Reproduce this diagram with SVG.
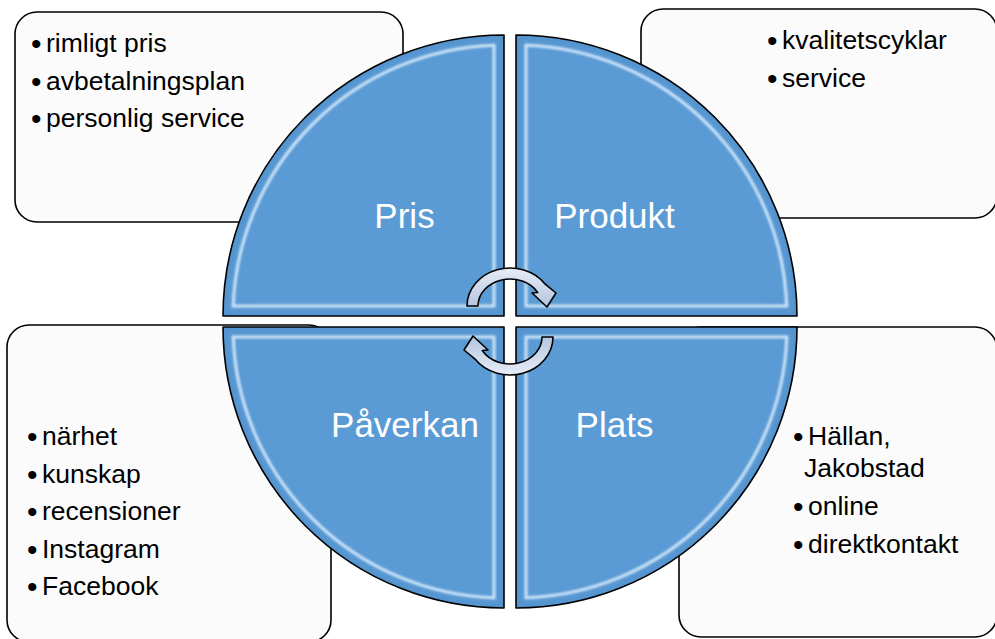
<svg xmlns="http://www.w3.org/2000/svg" xmlns:xlink="http://www.w3.org/1999/xlink" width="995" height="639" viewBox="0 0 995 639">
  <defs>
    <style>
      .box{fill:#fbfbfb;stroke:#000;stroke-width:1.6}
      .txt{font-family:"Liberation Sans",Arial,sans-serif;font-size:26.5px;fill:#000}
      .b{font-size:30px}
      .lbl{font-family:"Liberation Sans",Arial,sans-serif;font-size:35px;fill:#fff;text-anchor:middle}
      .q{fill:#5b9bd5}
      .edge{fill:none;stroke:#000;stroke-width:1.6;stroke-linejoin:round}
      .shade{fill:none;stroke:#3c78b2;stroke-width:8;opacity:.25}
      .hl{fill:none;stroke:#e2f2ff;stroke-width:3;opacity:.85}
      .arrow{fill:url(#ag);stroke:#000;stroke-width:1.6;stroke-linejoin:round}
    </style>
    <!-- quarter disc with its right angle at the origin, opening to the upper left -->
    <path id="qs" d="M0,0 L-281,0 A281,281 0 0 1 0,-281 Z"/>
    <!-- inset outline used for the bevel highlight -->
    <path id="qh" d="M-10,-10 L-270.8,-10 A271,271 0 0 1 -10,-270.8 Z"/>
    <clipPath id="qc"><use href="#qs"/></clipPath>
    <filter id="soft" x="-10%" y="-10%" width="120%" height="120%"><feGaussianBlur stdDeviation="1.3"/></filter>
    <filter id="soft2" x="-10%" y="-10%" width="120%" height="120%"><feGaussianBlur stdDeviation="3"/></filter>
    <linearGradient id="ag" x1="0" y1="0" x2="0" y2="1">
      <stop offset="0" stop-color="#e8edf7"/>
      <stop offset="1" stop-color="#b3c5df"/>
    </linearGradient>
  </defs>

  <!-- text boxes behind the circle -->
  <g id="box-pris">
    <rect class="box" x="15" y="12" width="388" height="210" rx="22"/>
    <text class="txt" y="52"><tspan class="b" x="31" dy="2">•</tspan><tspan x="46" dy="-2">rimligt pris</tspan></text>
    <text class="txt" y="89.5"><tspan class="b" x="31" dy="2">•</tspan><tspan x="46" dy="-2">avbetalningsplan</tspan></text>
    <text class="txt" y="127"><tspan class="b" x="31" dy="2">•</tspan><tspan x="46" dy="-2">personlig service</tspan></text>
  </g>
  <g id="box-produkt">
    <rect class="box" x="641" y="9" width="356" height="209" rx="22"/>
    <text class="txt" y="49"><tspan class="b" x="767" dy="2">•</tspan><tspan x="782" dy="-2">kvalitetscyklar</tspan></text>
    <text class="txt" y="87"><tspan class="b" x="767" dy="2">•</tspan><tspan x="782" dy="-2">service</tspan></text>
  </g>
  <g id="box-paverkan">
    <rect class="box" x="7" y="325" width="324" height="317" rx="22"/>
    <text class="txt" y="445"><tspan class="b" x="27" dy="2">•</tspan><tspan x="42" dy="-2">närhet</tspan></text>
    <text class="txt" y="482.5"><tspan class="b" x="27" dy="2">•</tspan><tspan x="42" dy="-2">kunskap</tspan></text>
    <text class="txt" y="520"><tspan class="b" x="27" dy="2">•</tspan><tspan x="42" dy="-2">recensioner</tspan></text>
    <text class="txt" y="557.5"><tspan class="b" x="27" dy="2">•</tspan><tspan x="42" dy="-2">Instagram</tspan></text>
    <text class="txt" y="595"><tspan class="b" x="27" dy="2">•</tspan><tspan x="42" dy="-2">Facebook</tspan></text>
  </g>
  <g id="box-plats">
    <rect class="box" x="679" y="327" width="318" height="310" rx="22"/>
    <text class="txt" y="445"><tspan class="b" x="793" dy="2">•</tspan><tspan x="808" dy="-2">Hällan,</tspan></text>
    <text class="txt" y="477"><tspan x="804">Jakobstad</tspan></text>
    <text class="txt" y="515"><tspan class="b" x="793" dy="2">•</tspan><tspan x="808" dy="-2">online</tspan></text>
    <text class="txt" y="553"><tspan class="b" x="793" dy="2">•</tspan><tspan x="808" dy="-2">direktkontakt</tspan></text>
  </g>

  <!-- four quadrants of the circle -->
  <g id="pris">
    <g transform="translate(504,316)">
      <use href="#qs" class="q"/>
      <g clip-path="url(#qc)"><use href="#qs" class="shade" filter="url(#soft2)"/><use href="#qh" class="hl" filter="url(#soft)"/></g>
      <use href="#qs" class="edge"/>
    </g>
    <text class="lbl" x="404.5" y="228">Pris</text>
  </g>
  <g id="produkt">
    <g transform="translate(516,316) rotate(90)">
      <use href="#qs" class="q"/>
      <g clip-path="url(#qc)"><use href="#qs" class="shade" filter="url(#soft2)"/><use href="#qh" class="hl" filter="url(#soft)"/></g>
      <use href="#qs" class="edge"/>
    </g>
    <text class="lbl" x="614.5" y="228">Produkt</text>
  </g>
  <g id="plats">
    <g transform="translate(516,327) rotate(180)">
      <use href="#qs" class="q"/>
      <g clip-path="url(#qc)"><use href="#qs" class="shade" filter="url(#soft2)"/><use href="#qh" class="hl" filter="url(#soft)"/></g>
      <use href="#qs" class="edge"/>
    </g>
    <text class="lbl" x="614.5" y="437">Plats</text>
  </g>
  <g id="paverkan">
    <g transform="translate(504,327) rotate(270)">
      <use href="#qs" class="q"/>
      <g clip-path="url(#qc)"><use href="#qs" class="shade" filter="url(#soft2)"/><use href="#qh" class="hl" filter="url(#soft)"/></g>
      <use href="#qs" class="edge"/>
    </g>
    <text class="lbl" x="405" y="437">Påverkan</text>
  </g>

  <!-- circular arrows in the middle -->
  <g id="connectors">
    <path id="arrow-top" class="arrow" d="M467,306 A43,38 0 0 1 545.2,284.2 L556,293 L547,307 L532,293 L537.7,292.5 A32,27 0 0 0 478,306 Z"/>
    <path id="arrow-bottom" class="arrow" transform="rotate(180 510 321.5)" d="M467,306 A43,38 0 0 1 545.2,284.2 L556,293 L547,307 L532,293 L537.7,292.5 A32,27 0 0 0 478,306 Z"/>
  </g>
</svg>
